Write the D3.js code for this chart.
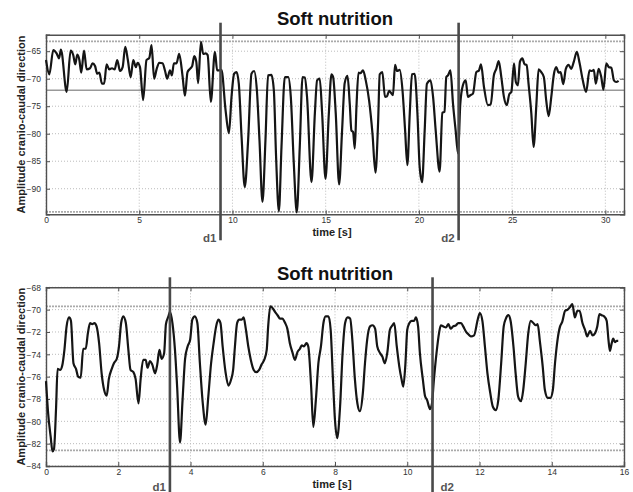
<!DOCTYPE html>
<html>
<head>
<meta charset="utf-8">
<script src="https://cdn.jsdelivr.net/npm/d3@7"></script>
<style>
  body { margin: 0; background: #fff; }
  svg { font-family: "Liberation Sans", Arial, sans-serif; }
</style>
</head>
<body>
<svg id="viz" width="633" height="492"></svg>
<script>
// ---- data (time [s], amplitude) ----
var topSignal = [[0,-66.6],[0.18,-69.2],[0.39,-64.8],[0.57,-65.4],[0.70,-66.3],[0.80,-64.7],[1.11,-72.4],[1.32,-64.9],[1.46,-65.7],[1.57,-67.4],[1.68,-65.6],[1.79,-66.6],[1.89,-68.9],[2.04,-64.9],[2.18,-68.3],[2.36,-68.1],[2.50,-67.2],[2.63,-67.7],[2.75,-69.1],[2.86,-68.9],[3.0,-70.9],[3.12,-70.9],[3.25,-67.4],[3.39,-68.3],[3.54,-68.1],[3.68,-68.3],[3.82,-66.6],[3.97,-68.6],[4.11,-67.9],[4.25,-64.2],[4.39,-66.6],[4.54,-69.7],[4.68,-66.6],[4.82,-67.9],[4.91,-67.1],[5.04,-67.9],[5.21,-73.9],[5.39,-66.6],[5.54,-66.2],[5.66,-63.9],[5.80,-70.0],[5.93,-68.3],[6.07,-67.1],[6.25,-67.2],[6.38,-68.5],[6.50,-70.0],[6.65,-68.5],[6.75,-69.4],[6.86,-67.2],[7.0,-67.2],[7.14,-65.5],[7.33,-69.7],[7.45,-73.1],[7.59,-68.8],[7.72,-68.2],[7.84,-67.7],[7.95,-65.9],[8.06,-66.9],[8.16,-70.8],[8.31,-63.3],[8.43,-65.5],[8.56,-65.4],[8.67,-65.7],[8.84,-74.2],[9.06,-65.1],[9.18,-68.5],[9.32,-68.5],[9.41,-68.4],[9.63,-75.7],[9.81,-79.9],[9.95,-73.3],[10.09,-69.1],[10.22,-68.8],[10.34,-70.9],[10.49,-80.6],[10.66,-89.7],[10.84,-81.2],[11.02,-69.1],[11.16,-68.6],[11.31,-72.1],[11.45,-81.2],[11.61,-92.4],[11.77,-81.2],[11.91,-69.4],[12.09,-69.3],[12.22,-72.1],[12.34,-84.2],[12.49,-94.1],[12.63,-82.4],[12.81,-69.7],[12.99,-69.7],[13.13,-73.3],[13.29,-85.4],[13.45,-94.3],[13.61,-82.4],[13.76,-69.7],[13.88,-69.8],[14.00,-73.3],[14.24,-88.8],[14.42,-76.3],[14.54,-70.3],[14.68,-70.0],[14.81,-76.3],[14.99,-88.2],[15.17,-76.3],[15.31,-69.2],[15.40,-69.7],[15.54,-76.3],[15.72,-89.2],[15.88,-79.4],[16.02,-70.8],[16.17,-69.5],[16.29,-74.5],[16.38,-79.4],[16.47,-79.7],[16.56,-82.7],[16.65,-75.2],[16.76,-68.9],[16.86,-69.0],[17.0,-68.5],[17.15,-70.3],[17.33,-74.0],[17.51,-80.0],[17.67,-87.1],[17.81,-78.1],[17.90,-69.2],[18.04,-68.8],[18.18,-73.3],[18.29,-73.2],[18.40,-72.2],[18.51,-72.6],[18.61,-73.0],[18.72,-67.5],[18.83,-68.6],[18.97,-68.4],[19.12,-72.1],[19.26,-79.4],[19.38,-85.7],[19.51,-76.3],[19.63,-69.2],[19.77,-69.1],[19.92,-76.3],[20.04,-86.0],[20.17,-88.8],[20.31,-79.4],[20.43,-70.9],[20.62,-70.3],[20.76,-73.3],[20.90,-79.4],[21.11,-86.9],[21.26,-76.2],[21.37,-76.0],[21.47,-69.7],[21.56,-69.4],[21.69,-68.5],[21.83,-74.6],[21.97,-79.4],[22.10,-83.6],[22.22,-74.6],[22.36,-71.2],[22.51,-70.3],[22.63,-73.3],[22.76,-73.0],[22.90,-72.7],[23.08,-68.8],[23.22,-68.5],[23.33,-67.4],[23.49,-71.5],[23.70,-74.8],[23.85,-74.7],[24.02,-69.4],[24.15,-68.2],[24.28,-66.8],[24.42,-69.7],[24.56,-73.3],[24.71,-74.8],[24.85,-72.8],[24.96,-72.4],[25.10,-67.2],[25.20,-70.6],[25.31,-71.2],[25.42,-66.9],[25.55,-66.3],[25.67,-67.4],[25.78,-67.5],[25.88,-70.9],[26.03,-76.3],[26.15,-82.4],[26.30,-74.7],[26.42,-68.3],[26.56,-68.8],[26.70,-69.7],[26.83,-74.0],[26.96,-76.8],[27.10,-73.3],[27.24,-69.2],[27.37,-67.9],[27.49,-68.9],[27.60,-68.8],[27.74,-71.0],[27.88,-68.2],[28.03,-67.5],[28.17,-68.2],[28.31,-66.9],[28.47,-65.1],[28.62,-67.2],[28.79,-70.3],[28.97,-72.4],[29.15,-68.5],[29.28,-68.6],[29.38,-68.4],[29.49,-70.9],[29.64,-68.2],[29.78,-69.7],[29.90,-72.0],[30.05,-67.2],[30.19,-67.9],[30.32,-68.0],[30.46,-70.3],[30.58,-70.6],[30.71,-70.4]];

var bottomSignal = [[0,-76.4],[0.06,-79.3],[0.13,-81.4],[0.18,-82.7],[0.22,-82.5],[0.28,-78.7],[0.32,-75.3],[0.39,-75.4],[0.45,-75.0],[0.51,-73.6],[0.57,-71.5],[0.64,-70.7],[0.69,-71.0],[0.76,-74.8],[0.83,-75.3],[0.89,-76.0],[0.96,-76.1],[1.03,-73.5],[1.10,-73.5],[1.16,-72.1],[1.22,-71.2],[1.28,-71.3],[1.34,-71.2],[1.40,-71.5],[1.47,-73.0],[1.54,-75.7],[1.61,-77.2],[1.68,-77.7],[1.74,-76.2],[1.82,-75.3],[1.88,-74.8],[1.96,-74.4],[2.02,-73.3],[2.08,-71.2],[2.14,-70.6],[2.21,-71.2],[2.28,-73.6],[2.34,-75.4],[2.42,-75.6],[2.48,-76.2],[2.56,-78.4],[2.62,-76.2],[2.69,-74.5],[2.76,-74.5],[2.81,-75.2],[2.88,-74.6],[2.94,-74.9],[3.02,-75.7],[3.08,-74.9],[3.14,-73.6],[3.20,-74.4],[3.27,-73.9],[3.32,-71.3],[3.39,-70.6],[3.43,-70.2],[3.50,-71.2],[3.57,-73.6],[3.63,-76.9],[3.71,-81.9],[3.78,-78.1],[3.85,-74.4],[3.92,-73.3],[3.99,-72.7],[4.05,-70.9],[4.12,-70.6],[4.19,-71.2],[4.26,-74.8],[4.34,-78.4],[4.42,-80.3],[4.49,-77.9],[4.57,-74.8],[4.64,-73.0],[4.71,-71.5],[4.77,-70.9],[4.83,-71.2],[4.89,-73.3],[4.97,-75.6],[5.05,-76.8],[5.12,-76.3],[5.18,-75.4],[5.23,-73.3],[5.29,-71.2],[5.35,-70.9],[5.42,-70.9],[5.47,-70.7],[5.53,-71.7],[5.60,-73.3],[5.67,-74.5],[5.75,-75.4],[5.82,-75.6],[5.90,-75.4],[5.97,-74.9],[6.04,-74.5],[6.11,-73.6],[6.15,-71.5],[6.21,-69.7],[6.28,-69.9],[6.34,-70.2],[6.41,-70.5],[6.48,-70.8],[6.54,-70.8],[6.62,-71.2],[6.68,-71.7],[6.75,-73.0],[6.82,-73.8],[6.89,-74.5],[6.96,-73.8],[7.03,-73.5],[7.08,-73.2],[7.14,-73.3],[7.21,-73.0],[7.26,-73.3],[7.34,-76.9],[7.40,-80.5],[7.47,-78.1],[7.54,-74.8],[7.61,-73.3],[7.68,-71.2],[7.74,-70.6],[7.82,-70.6],[7.88,-71.8],[7.94,-76.0],[8.00,-79.9],[8.06,-81.5],[8.14,-78.7],[8.21,-73.9],[8.28,-71.2],[8.35,-70.7],[8.42,-70.8],[8.48,-72.7],[8.55,-76.2],[8.62,-78.4],[8.69,-79.1],[8.77,-77.5],[8.83,-74.8],[8.89,-72.7],[8.97,-71.5],[9.04,-71.4],[9.11,-71.7],[9.17,-73.3],[9.25,-73.9],[9.31,-74.2],[9.38,-74.8],[9.45,-73.8],[9.52,-71.8],[9.59,-71.4],[9.64,-71.2],[9.71,-73.3],[9.78,-75.1],[9.84,-76.2],[9.89,-76.9],[9.95,-74.8],[10.00,-71.8],[10.06,-71.2],[10.12,-71.0],[10.19,-71.0],[10.24,-70.7],[10.30,-71.5],[10.35,-73.9],[10.43,-76.2],[10.49,-77.7],[10.55,-78.1],[10.63,-78.9],[10.68,-78.5],[10.74,-76.2],[10.81,-73.9],[10.88,-72.1],[10.93,-71.4],[11.00,-71.5],[11.07,-71.6],[11.14,-71.3],[11.20,-71.7],[11.27,-71.5],[11.35,-71.4],[11.41,-71.2],[11.49,-71.2],[11.55,-71.5],[11.63,-72.0],[11.69,-72.2],[11.76,-72.4],[11.85,-72.3],[11.95,-70.9],[12.01,-70.3],[12.08,-71.0],[12.15,-73.3],[12.22,-75.7],[12.30,-77.5],[12.37,-78.7],[12.45,-79.0],[12.52,-78.1],[12.60,-74.8],[12.67,-71.5],[12.73,-70.8],[12.80,-70.5],[12.86,-71.0],[12.94,-73.3],[13.00,-75.7],[13.07,-77.8],[13.15,-78.2],[13.21,-77.2],[13.28,-74.8],[13.35,-72.1],[13.42,-71.0],[13.49,-71.2],[13.56,-71.4],[13.61,-71.3],[13.67,-72.8],[13.75,-75.1],[13.81,-77.2],[13.89,-77.9],[13.96,-77.9],[14.03,-77.2],[14.09,-74.8],[14.16,-72.7],[14.23,-71.5],[14.29,-71.1],[14.37,-70.1],[14.44,-70.0],[14.50,-69.8],[14.57,-69.5],[14.64,-70.7],[14.71,-70.1],[14.77,-70.1],[14.85,-71.2],[14.92,-71.8],[14.98,-72.4],[15.06,-71.9],[15.13,-72.3],[15.20,-72.1],[15.26,-71.5],[15.32,-70.4],[15.38,-70.5],[15.45,-70.6],[15.52,-71.0],[15.57,-72.7],[15.61,-73.7],[15.66,-73.0],[15.70,-72.6],[15.75,-72.9],[15.80,-72.8],[15.84,-72.8]];

var topXTicks = [0, 5, 10, 15, 20, 25, 30];
var topYTicks = [-90, -85, -80, -75, -70, -65];
var bottomXTicks = [0, 2, 4, 6, 8, 10, 12, 14, 16];
var bottomYTicks = [-84, -82, -80, -78, -76, -74, -72, -70, -68];

// reference levels (grey lines) and event markers
var topBands = [-63.2, -94.2];
var topMean = [-72.1];
var bottomBands = [-69.7, -82.6];
var bottomMean = [];
var topMarkers = [{ label: 'd1', t: 9.36, side: 'left' }, { label: 'd2', t: 22.13, side: 'left' }];
var bottomMarkers = [{ label: 'd1', t: 3.43, side: 'left' }, { label: 'd2', t: 10.7, side: 'right' }];

var svg = d3.select('#viz');

drawPanel({
  top: 34.7, height: 179.6, xDomain: [0, 31], yDomain: [-94.65, -62],
  data: topSignal, xTicks: topXTicks, yTicks: topYTicks,
  bands: topBands, mean: topMean, markers: topMarkers,
  markerTop: -12, markerBottom: 26, labelY: 242, titleY: 25
});

drawPanel({
  top: 287.3, height: 178.7, xDomain: [0, 16], yDomain: [-84, -68],
  data: bottomSignal, xTicks: bottomXTicks, yTicks: bottomYTicks,
  bands: bottomBands, mean: bottomMean, markers: bottomMarkers,
  markerTop: -10, markerBottom: 30, labelY: 491, titleY: 280
});

function drawPanel(cfg) {
  var left = 46, width = 578;
  var g = svg.append('g').attr('transform', 'translate(' + left + ',' + cfg.top + ')');

  var x = d3.scaleLinear().domain(cfg.xDomain).range([0, width]);
  var y = d3.scaleLinear().domain(cfg.yDomain).range([cfg.height, 0]);

  // dotted grid
  g.append('g').selectAll('line').data(cfg.xTicks).enter().append('line')
    .attr('x1', function (d) { return x(d); }).attr('x2', function (d) { return x(d); })
    .attr('y1', 0).attr('y2', cfg.height)
    .attr('stroke', '#bbb').attr('stroke-width', 1).attr('stroke-dasharray', '1,2');
  g.append('g').selectAll('line').data(cfg.yTicks).enter().append('line')
    .attr('x1', 0).attr('x2', width)
    .attr('y1', function (d) { return y(d); }).attr('y2', function (d) { return y(d); })
    .attr('stroke', '#bbb').attr('stroke-width', 1).attr('stroke-dasharray', '1,2');

  // reference levels
  g.append('g').selectAll('line').data(cfg.bands).enter().append('line')
    .attr('x1', 0).attr('x2', width)
    .attr('y1', function (d) { return y(d); }).attr('y2', function (d) { return y(d); })
    .attr('stroke', '#aaa').attr('stroke-width', 1.8).attr('stroke-dasharray', '2,1');
  g.append('g').selectAll('line').data(cfg.mean).enter().append('line')
    .attr('x1', 0).attr('x2', width)
    .attr('y1', function (d) { return y(d); }).attr('y2', function (d) { return y(d); })
    .attr('stroke', '#999').attr('stroke-width', 1.3);

  // axes: MATLAB-like box with inward ticks
  var xb = d3.axisBottom(x).tickValues(cfg.xTicks).tickSize(-4).tickPadding(2.5);
  var xt = d3.axisTop(x).tickValues(cfg.xTicks).tickSize(-4).tickFormat('');
  var yl = d3.axisLeft(y).tickValues(cfg.yTicks).tickSize(-4).tickPadding(5);
  var yr = d3.axisRight(y).tickValues(cfg.yTicks).tickSize(-4).tickFormat('');

  var axes = [
    g.append('g').attr('transform', 'translate(0,' + cfg.height + ')').call(xb),
    g.append('g').call(xt),
    g.append('g').call(yl),
    g.append('g').attr('transform', 'translate(' + width + ',0)').call(yr)
  ];
  axes.forEach(function (a) {
    a.select('.domain').attr('stroke', '#505050').attr('stroke-width', 1.4);
    a.selectAll('.tick line').attr('stroke', '#505050');
    a.selectAll('text').attr('font-size', 8.5).attr('fill', '#333')
      .attr('font-family', '"Liberation Sans", Arial, sans-serif');
  });

  // signal
  var line = d3.line()
    .x(function (d) { return x(d[0]); })
    .y(function (d) { return y(d[1]); })
    .curve(d3.curveMonotoneX);
  g.append('path').datum(cfg.data)
    .attr('fill', 'none').attr('stroke', '#151515').attr('stroke-width', 2.2)
    .attr('stroke-linejoin', 'round').attr('d', line);

  // event markers
  cfg.markers.forEach(function (m) {
    g.append('line')
      .attr('x1', x(m.t)).attr('x2', x(m.t))
      .attr('y1', cfg.markerTop).attr('y2', cfg.height + cfg.markerBottom)
      .attr('stroke', '#4a4a4a').attr('stroke-width', 2.6);
    svg.append('text')
      .attr('x', left + x(m.t) + (m.side === 'left' ? -4 : 8))
      .attr('y', cfg.labelY)
      .attr('text-anchor', m.side === 'left' ? 'end' : 'start')
      .attr('font-size', 11.5).attr('font-weight', 'bold').attr('fill', '#555')
      .text(m.label);
  });

  // titles
  svg.append('text')
    .attr('x', left + width / 2).attr('y', cfg.titleY)
    .attr('text-anchor', 'middle').attr('font-size', 18.5).attr('font-weight', 'bold')
    .attr('fill', '#111').text('Soft nutrition');
  svg.append('text')
    .attr('x', left + width / 2 - 3).attr('y', cfg.top + cfg.height + 22)
    .attr('text-anchor', 'middle').attr('font-size', 11).attr('font-weight', 'bold')
    .attr('fill', '#222').text('time [s]');
  svg.append('text')
    .attr('transform', 'translate(25,' + (cfg.top + cfg.height / 2) + ') rotate(-90)')
    .attr('text-anchor', 'middle').attr('font-size', 11).attr('font-weight', 'bold')
    .attr('fill', '#222').text('Amplitude cranio-caudal direction');
}
</script>
</body>
</html>
